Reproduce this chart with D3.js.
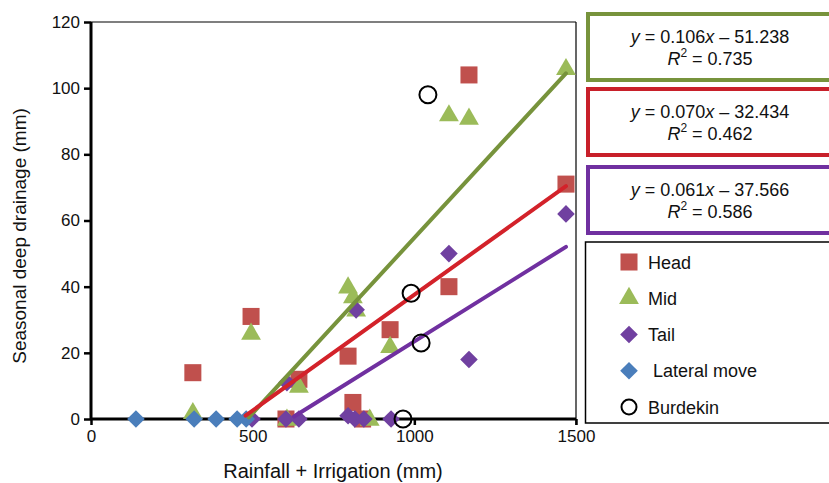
<!DOCTYPE html>
<html>
<head>
<meta charset="utf-8">
<script src="https://cdn.jsdelivr.net/npm/d3@7"></script>
<style>
  body { margin: 0; background: #fff; }
  svg { display: block; font-family: "Liberation Sans", Arial, Helvetica, sans-serif; }
</style>
</head>
<body>
<svg id="chart" width="829" height="483"></svg>
<script>
// data (x = rainfall + irrigation, y = deep drainage)
const headX = [315, 495, 643, 603, 795, 810, 840, 925, 1107, 1169, 1469];
const headY = [14, 31, 12, 0, 19, 5, 0, 27, 40, 104, 71];
const midX = [315, 495, 643, 606, 795, 810, 820, 862, 925, 1107, 1169, 1469];
const midY = [2, 26, 10, 0, 40, 37, 33, 0, 22, 92, 91, 106];
const tailX = [498, 606, 603, 643, 820, 795, 816, 844, 928, 1107, 1169, 1469];
const tailY = [0, 11, 0, 0, 33, 1, 0, 0, 0, 50, 18, 62];
const lateralX = [139, 319, 387, 452, 480];
const lateralY = [0, 0, 0, 0, 0];
const burdekinX = [1042, 990, 1021, 965];
const burdekinY = [98, 38, 23, 0];

// fitted lines: slope, intercept, r2, x range
const fitNames = ['Mid', 'Head', 'Tail'];
const fitSlope = [0.106, 0.070, 0.061];
const fitIntercept = [-51.238, -32.434, -37.566];
const fitR2 = ['0.735', '0.462', '0.586'];
const fitStart = [488, 478, 628];
const fitEnd = [1469, 1469, 1469];

const xTicks = [0, 500, 1000, 1500];
const yTicks = [0, 20, 40, 60, 80, 100, 120];

const svg = d3.select('#chart');
const margin = {top: 22, left: 91};
const w = 485, h = 397;

const x = d3.scaleLinear().domain([0, 1500]).range([0, w]);
const y = d3.scaleLinear().domain([0, 120]).range([h, 0]);

const g = svg.append('g').attr('transform', `translate(${margin.left},${margin.top})`);

// thin frame on top and right
g.append('line').attr('x1', 0).attr('x2', w).attr('y1', 0).attr('y2', 0)
  .attr('stroke', '#000').attr('stroke-width', 1.2);
g.append('line').attr('x1', w).attr('x2', w).attr('y1', 0).attr('y2', h + 6)
  .attr('stroke', '#000').attr('stroke-width', 1.2);

// axes
const xAxis = g.append('g').attr('transform', `translate(0,${h})`)
  .call(d3.axisBottom(x).tickValues(xTicks).tickSize(6).tickPadding(5).tickFormat(d3.format('d')));
const yAxis = g.append('g')
  .call(d3.axisLeft(y).tickValues(yTicks).tickSize(7).tickPadding(4).tickFormat(d3.format('d')));
[xAxis, yAxis].forEach(a => {
  a.select('.domain').attr('stroke', '#000').attr('stroke-width', 3);
  a.selectAll('.tick line').attr('stroke', '#000').attr('stroke-width', 2.5);
  a.selectAll('.tick text').attr('font-size', 17).attr('fill', '#111')
    .attr('font-family', '"Liberation Sans", Arial, sans-serif');
});
xAxis.select('.domain').attr('d', `M0,0H${w}`);
yAxis.select('.domain').attr('d', `M0,0V${h}`);

// axis titles
svg.append('text').attr('x', 333).attr('y', 478)
  .attr('text-anchor', 'middle').attr('font-size', 20).attr('fill', '#111')
  .text('Rainfall + Irrigation (mm)');
svg.append('text').attr('transform', 'translate(26,236) rotate(-90)')
  .attr('text-anchor', 'middle').attr('font-size', 19).attr('fill', '#111')
  .text('Seasonal deep drainage (mm)');

// marker shapes
const sq = d3.symbol().type(d3.symbolSquare).size(290);
const tri = d3.symbol().type(d3.symbolTriangle).size(170);
const dia = d3.symbol().type(d3.symbolSquare).size(155);

const zip = (xs, ys) => xs.map((v, i) => ({x: v, y: ys[i]}));

g.append('g').selectAll('path').data(zip(headX, headY)).enter().append('path')
  .attr('d', sq).attr('fill', '#C0504D')
  .attr('transform', d => `translate(${x(d.x)},${y(d.y)})`);
g.append('g').selectAll('path').data(zip(midX, midY)).enter().append('path')
  .attr('d', tri).attr('fill', '#9BBB59')
  .attr('transform', d => `translate(${x(d.x)},${y(d.y) + 1})`);
g.append('g').selectAll('path').data(zip(tailX, tailY)).enter().append('path')
  .attr('d', dia).attr('fill', '#7040A0')
  .attr('transform', d => `translate(${x(d.x)},${y(d.y)}) rotate(45)`);
g.append('g').selectAll('path').data(zip(lateralX, lateralY)).enter().append('path')
  .attr('d', dia).attr('fill', '#4A7EBB')
  .attr('transform', d => `translate(${x(d.x)},${y(d.y)}) rotate(45)`);

// fitted lines
const lineColors = ['#77933C', '#D3222A', '#7030A0'];
const lineGen = d3.line().x(d => x(d[0])).y(d => y(d[1]));
fitNames.forEach((n, i) => {
  const pts = [fitStart[i], fitEnd[i]].map(v => [v, fitSlope[i] * v + fitIntercept[i]]);
  g.append('path').attr('d', lineGen(pts)).attr('stroke', lineColors[i])
    .attr('stroke-width', 4).attr('fill', 'none').attr('stroke-linecap', 'round');
});

g.append('g').selectAll('circle').data(zip(burdekinX, burdekinY)).enter().append('circle')
  .attr('cx', d => x(d.x)).attr('cy', d => y(d.y)).attr('r', 8.5)
  .attr('fill', 'none').attr('stroke', '#000').attr('stroke-width', 2);

// equation boxes
const boxColors = ['#77933C', '#C8202A', '#7030A0'];
const boxTop = [14, 89, 167];
fitNames.forEach((n, i) => {
  svg.append('rect').attr('x', 588).attr('y', boxTop[i]).attr('width', 260).attr('height', 66)
    .attr('fill', '#fff').attr('stroke', boxColors[i]).attr('stroke-width', 4);
  const t1 = svg.append('text').attr('x', 710).attr('y', boxTop[i] + 29)
    .attr('text-anchor', 'middle').attr('font-size', 18).attr('fill', '#111');
  t1.append('tspan').attr('font-style', 'italic').text('y');
  t1.append('tspan').text(` = ${fitSlope[i].toFixed(3)}`);
  t1.append('tspan').attr('font-style', 'italic').text('x');
  t1.append('tspan').text(` – ${Math.abs(fitIntercept[i]).toFixed(3)}`);
  const t2 = svg.append('text').attr('x', 710).attr('y', boxTop[i] + 51)
    .attr('text-anchor', 'middle').attr('font-size', 18).attr('fill', '#111');
  t2.append('tspan').attr('font-style', 'italic').text('R');
  t2.append('tspan').attr('font-size', 12).attr('dy', -8).text('2');
  t2.append('tspan').attr('dy', 8).text(` = ${fitR2[i]}`);
});

// legend
const legendNames = ['Head', 'Mid', 'Tail', ' Lateral move', 'Burdekin'];
svg.append('rect').attr('x', 585.5).attr('y', 242).attr('width', 260).attr('height', 181)
  .attr('fill', '#fff').attr('stroke', '#000').attr('stroke-width', 1.5);
const ly = d3.scalePoint().domain(legendNames).range([262, 407]);
const lg = svg.append('g');
const legendShapes = [
  s => s.append('path').attr('d', sq).attr('fill', '#C0504D'),
  s => s.append('path').attr('d', tri).attr('fill', '#9BBB59'),
  s => s.append('path').attr('d', dia).attr('fill', '#7040A0').attr('transform', 'rotate(45)'),
  s => s.append('path').attr('d', dia).attr('fill', '#4A7EBB').attr('transform', 'rotate(45)'),
  s => s.append('circle').attr('r', 7.5).attr('fill', 'none').attr('stroke', '#000').attr('stroke-width', 2)
];
legendNames.forEach((n, i) => {
  const item = lg.append('g').attr('transform', `translate(629,${ly(n)})`);
  legendShapes[i](item);
  item.append('text').attr('x', 19).attr('y', 6.5).attr('font-size', 18).attr('fill', '#111')
    .attr('xml:space', 'preserve').style('white-space', 'pre').text(n);
});
</script>
</body>
</html>
